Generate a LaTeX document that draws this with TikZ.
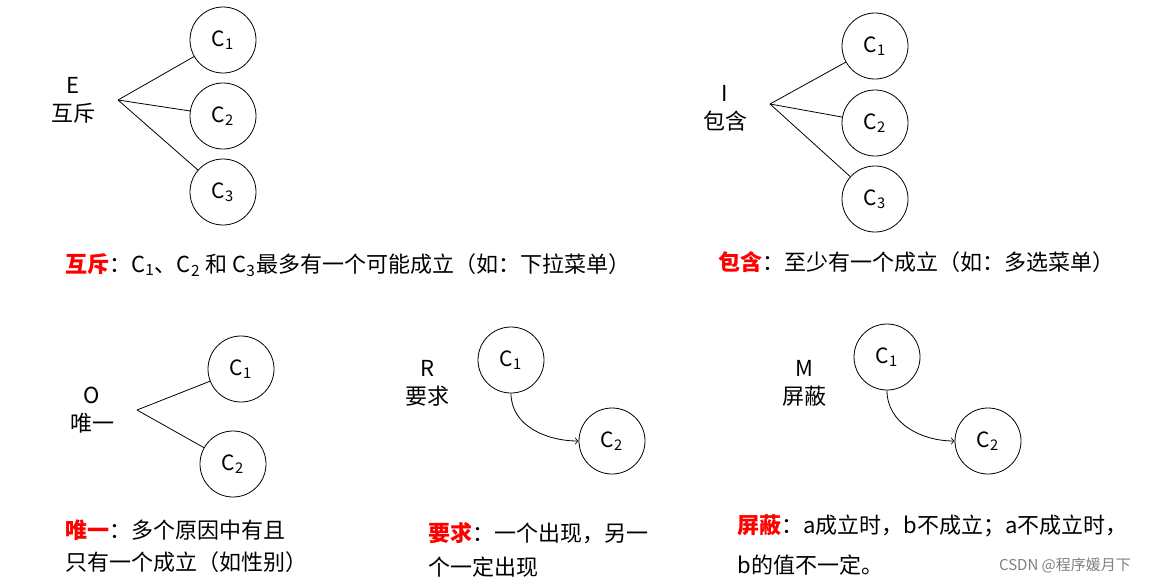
\documentclass[tikz,border=0pt]{standalone}
\usepackage{fontspec}
\setmainfont{Noto Sans CJK SC}
\begin{document}
\begin{tikzpicture}[x=0.5pt,y=-0.5pt,
  cc/.style={circle,draw,minimum size=33pt,inner sep=0pt,font=\fontsize{10.5}{12}\selectfont},
  lb/.style={font=\fontsize{11}{14}\selectfont,align=center},
  tx/.style={font=\fontsize{11}{16}\selectfont,anchor=west,inner sep=0pt}]
\useasboundingbox (0,0) rectangle (1166,584);
% E
\node[lb] (e) at (73,100) {E\\互斥};
\coordinate (ve) at (118,100);
\node[cc] (e1) at (223,40) {C\textsubscript{1}};
\node[cc] (e2) at (223,116) {C\textsubscript{2}};
\node[cc] (e3) at (223,192) {C\textsubscript{3}};
\foreach \n in {e1,e2,e3} \draw (ve) -- (\n);
% I
\node[lb] (i) at (725,108) {I\\包含};
\coordinate (vi) at (770,104);
\node[cc] (i1) at (875,46) {C\textsubscript{1}};
\node[cc] (i2) at (875,123) {C\textsubscript{2}};
\node[cc] (i3) at (875,199) {C\textsubscript{3}};
\foreach \n in {i1,i2,i3} \draw (vi) -- (\n);
% O
\node[lb] (o) at (92,410) {O\\唯一};
\coordinate (vo) at (137,410);
\node[cc] (o1) at (241,369) {C\textsubscript{1}};
\node[cc] (o2) at (233,464) {C\textsubscript{2}};
\foreach \n in {o1,o2} \draw (vo) -- (\n);
% R
\node[lb] (r) at (427,383) {R\\要求};
\node[cc] (r1) at (511,360) {C\textsubscript{1}};
\node[cc] (r2) at (612,441) {C\textsubscript{2}};
\draw[->] (r1.south) to[out=-90,in=180] (r2.west);
% M
\node[lb] (m) at (804,383) {M\\屏蔽};
\node[cc] (m1) at (887,357) {C\textsubscript{1}};
\node[cc] (m2) at (988,441) {C\textsubscript{2}};
\draw[->] (m1.south) to[out=-90,in=180] (m2.west);
% texts
\node[tx] (t1) at (65,265) {{\color{red}\bfseries 互斥}：C\textsubscript{1}、C\textsubscript{2} 和 C\textsubscript{3}最多有一个可能成立（如：下拉菜单）};
\node[tx] (t2) at (718,262) {{\color{red}\bfseries 包含}：至少有一个成立（如：多选菜单）};
\node[tx,align=left] (t3) at (65,546) {{\color{red}\bfseries 唯一}：多个原因中有且\\只有一个成立（如性别）};
\node[tx,align=left,font=\fontsize{11}{17}\selectfont] (t4) at (428,550) {{\color{red}\bfseries 要求}：一个出现，另一\\个一定出现};
\node[tx,align=left,font=\fontsize{11}{20}\selectfont] (t5) at (737,545) {{\color{red}\bfseries 屏蔽}：a成立时，b不成立；a不成立时，\\b的值不一定。};
\node[font=\fontsize{7.5}{9}\selectfont,text=gray] (w) at (1065,565) {CSDN @程序媛月下};
\end{tikzpicture}
\end{document}
